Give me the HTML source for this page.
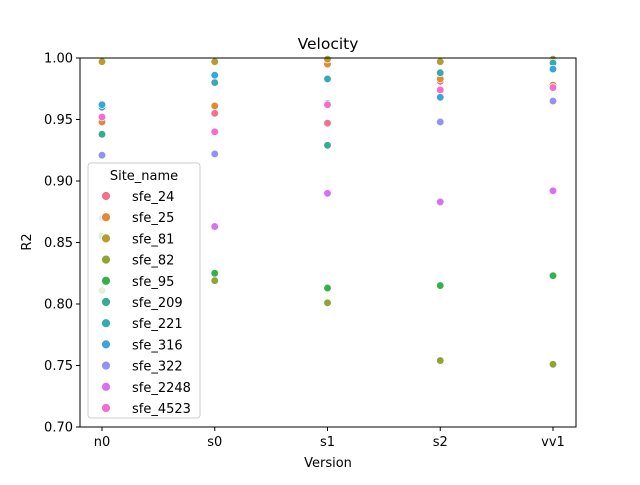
<!DOCTYPE html>
<html><head><meta charset="utf-8"><style>
body{margin:0;background:#fff}
svg text{font-family:"DejaVu Sans","Liberation Sans",sans-serif;fill:#000}
</style></head><body>
<svg id="chart" width="640" height="480" xmlns="http://www.w3.org/2000/svg">
<rect width="640" height="480" fill="#fff"/>
<g id="marks"></g>
<g id="axes"></g>
<g id="legend"></g>
</svg>
<script>
const categories=["n0","s0","s1","s2","vv1"];
const sites=["sfe_24","sfe_25","sfe_81","sfe_82","sfe_95","sfe_209","sfe_221","sfe_316","sfe_322","sfe_2248","sfe_4523"];
const colors=["#f37189","#e08b33","#b69c31","#8fa431","#33b249","#35ab8f","#37aab1","#3aa4de","#9491f4","#db6ff2","#f66bd2"];
const s_24=[0.948,0.955,0.947,0.981,0.978];
const s_25=[0.948,0.961,0.995,0.983,0.978];
const s_81=[0.997,0.997,0.999,0.997,0.999];
const s_82=[0.811,0.819,0.801,0.754,0.751];
const s_95=[0.855,0.825,0.813,0.815,0.823];
const s_209=[0.938,0.980,0.929,0.988,0.997];
const s_221=[0.960,0.980,0.983,0.988,0.996];
const s_316=[0.962,0.986,0.963,0.968,0.991];
const s_322=[0.921,0.922,0.962,0.948,0.965];
const s_2248=[0.870,0.863,0.890,0.883,0.892];
const s_4523=[0.952,0.940,0.962,0.974,0.976];
const series=[s_24,s_25,s_81,s_82,s_95,s_209,s_221,s_316,s_322,s_2248,s_4523];
const yTicks=[0.70,0.75,0.80,0.85,0.90,0.95,1.00];
const NS="http://www.w3.org/2000/svg";
const L=80,R=576,T=58,B=427;
const xs=i=>102+i*(553-102)/4;
const ys=v=>B-(v-0.70)/(0.30)*(B-T);
function el(t,a,p){const e=document.createElementNS(NS,t);for(const k in a)e.setAttribute(k,a[k]);p.appendChild(e);return e;}
const marks=document.getElementById('marks'),axes=document.getElementById('axes'),leg=document.getElementById('legend');
series.forEach((s,si)=>{s.forEach((v,ci)=>{
 const c=el('circle',{cx:xs(ci),cy:ys(v),r:3.8,fill:colors[si],stroke:'#fff','stroke-width':0.7},marks);
 
 
});});
const fr=el('rect',{x:L,y:T,width:R-L,height:B-T,fill:'none',stroke:'#000','stroke-width':1},axes);


yTicks.forEach(v=>{
 el('line',{x1:L-4,x2:L,y1:ys(v),y2:ys(v),stroke:'#000'},axes);
 const t=el('text',{x:L-7,y:ys(v)+4.5,'text-anchor':'end','font-size':13},axes);t.textContent=v.toFixed(2);
 
 
});
categories.forEach((c,i)=>{
 el('line',{x1:xs(i),x2:xs(i),y1:B,y2:B+4,stroke:'#000'},axes);
 const t=el('text',{x:xs(i),y:B+19,'text-anchor':'middle','font-size':13},axes);t.textContent=c;
 
 
});
let t=el('text',{x:328,y:467,'text-anchor':'middle','font-size':13},axes);t.textContent='Version';


t=el('text',{x:31,y:242,'text-anchor':'middle','font-size':13,transform:'rotate(-90 31 242)'},axes);t.textContent='R2';


t=el('text',{x:328,y:49,'text-anchor':'middle','font-size':15.5},axes);t.textContent='Velocity';


const lb=el('rect',{x:88,y:163,width:112,height:255,rx:3,fill:'#fff','fill-opacity':0.8,stroke:'#ccc'},leg);


t=el('text',{x:144,y:180,'text-anchor':'middle','font-size':13},leg);t.textContent='Site_name';


sites.forEach((s,i)=>{
 const y=196+i*21.2;
 const g=el('g',{},leg);
 
 
 el('circle',{cx:106,cy:y,r:4.5,fill:colors[i],stroke:'#fff','stroke-width':0.8},g);
 const tx=el('text',{x:132,y:y+5,'font-size':13},g);tx.textContent=s;
});
</script>
</body></html>
